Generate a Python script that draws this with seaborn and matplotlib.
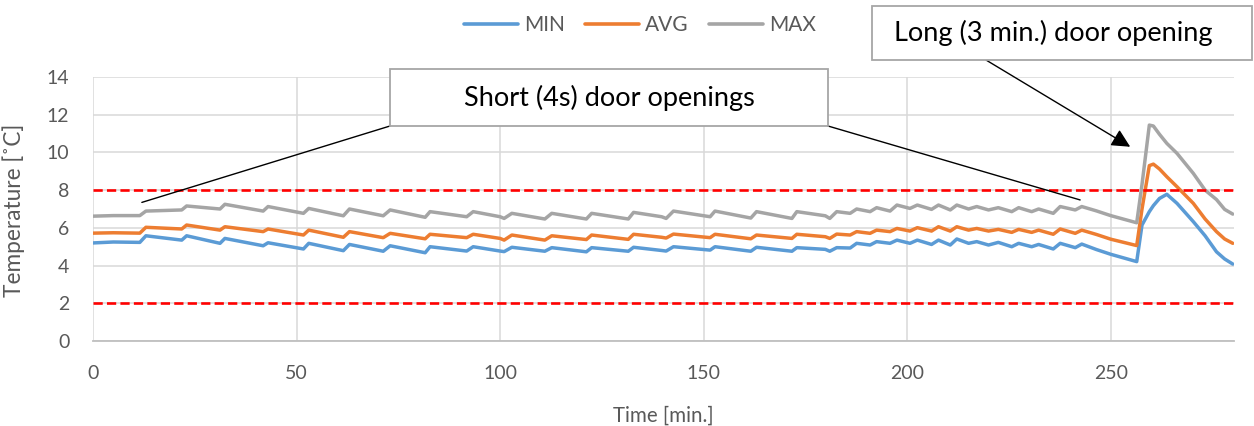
import matplotlib
matplotlib.use("Agg")
import matplotlib.pyplot as plt
import seaborn as sns
import pandas as pd
from matplotlib.patches import Rectangle

# ---------------- data (breakpoints) ----------------
time_min = [0, 5, 11.5, 13, 21.8, 23, 31.2, 32.4, 41.8, 43, 51.7, 53, 61.5, 63,
            71.3, 73, 81.6, 82.8, 91.8, 93.4, 100, 101, 102.9, 111, 112.7, 121.2,
            122.5, 131.5, 132.8, 139.7, 140.8, 142.6, 151.6, 152.8, 161.6, 163,
            171.7, 172.9, 179.9, 181, 182.7, 186, 187.6, 190.9, 192.5, 195.8,
            197.5, 200.7, 202.5, 206, 207.7, 210.6, 212.2, 215.1, 217.1, 220,
            222.4, 225.7, 227.4, 230.6, 232.3, 235.9, 237.6, 241.3, 242.9, 246.5,
            250, 256.4, 257.7, 259.5, 260.5, 262, 263.8, 266.3, 270.3, 273.2,
            276, 278, 280]

t_max = [6.62, 6.65, 6.65, 6.89, 6.95, 7.16, 7.00, 7.25, 6.89, 7.13, 6.77, 7.03, 6.64, 7.00,
         6.64, 6.95, 6.56, 6.86, 6.59, 6.86, 6.59, 6.50, 6.77, 6.47, 6.77, 6.47,
         6.77, 6.47, 6.82, 6.59, 6.50, 6.89, 6.59, 6.89, 6.52, 6.86,
         6.50, 6.86, 6.64, 6.50, 6.86, 6.77, 7.00, 6.86, 7.07, 6.89,
         7.21, 7.03, 7.21, 6.98, 7.21, 6.95, 7.21, 7.00, 7.13, 6.95,
         7.07, 6.86, 7.07, 6.86, 7.00, 6.77, 7.13, 6.95, 7.13, 6.90,
         6.65, 6.27, 8.30, 11.45, 11.40, 10.96, 10.48, 9.95, 8.89, 8.00,
         7.50, 6.98, 6.73]

t_avg = [5.72, 5.74, 5.72, 6.03, 5.94, 6.15, 5.88, 6.06, 5.80, 5.94, 5.62, 5.88, 5.50, 5.80,
         5.48, 5.71, 5.42, 5.66, 5.48, 5.66, 5.44, 5.35, 5.62, 5.35, 5.58, 5.38,
         5.62, 5.39, 5.66, 5.50, 5.46, 5.67, 5.48, 5.66, 5.42, 5.62,
         5.44, 5.66, 5.53, 5.44, 5.67, 5.62, 5.80, 5.71, 5.88, 5.80,
         5.97, 5.83, 6.01, 5.83, 6.06, 5.83, 6.06, 5.88, 5.97, 5.83,
         5.92, 5.76, 5.92, 5.76, 5.88, 5.66, 5.94, 5.71, 5.88, 5.65,
         5.40, 5.06, 7.00, 9.30, 9.38, 9.12, 8.71, 8.18, 7.30, 6.47,
         5.80, 5.41, 5.18]

t_min = [5.20, 5.25, 5.23, 5.58, 5.35, 5.58, 5.18, 5.44, 5.05, 5.21, 4.88, 5.18, 4.79, 5.12,
         4.76, 5.05, 4.68, 5.00, 4.77, 5.00, 4.77, 4.74, 4.97, 4.76, 4.95, 4.73,
         4.95, 4.76, 4.97, 4.80, 4.77, 5.00, 4.82, 5.00, 4.76, 4.97,
         4.76, 4.95, 4.86, 4.76, 4.95, 4.93, 5.18, 5.09, 5.27, 5.18,
         5.35, 5.18, 5.35, 5.12, 5.35, 5.09, 5.41, 5.18, 5.27, 5.09,
         5.23, 5.00, 5.18, 5.00, 5.12, 4.88, 5.18, 4.95, 5.14, 4.85,
         4.60, 4.21, 6.15, 6.86, 7.18, 7.56, 7.78, 7.30, 6.33, 5.58,
         4.73, 4.35, 4.08]

series_names = ["MIN", "AVG", "MAX"]
series_colors = ["#5b9bd5", "#ed7d31", "#a5a5a5"]
limit_values = [2, 8]
limit_span = [0, 280]
x_ticks = [0, 50, 100, 150, 200, 250]
y_ticks = [0, 2, 4, 6, 8, 10, 12, 14]

short_label = "Short (4s) door openings"
long_label = "Long (3 min.) door opening"
short_targets = [(12, 7.35), (242.5, 7.48)]
long_target = (254.8, 10.3)

# ---------------- build frame ----------------
frames = []
for name, vals in zip(series_names, [t_min, t_avg, t_max]):
    frames.append(pd.DataFrame({"Time": time_min, "Temperature": vals, "Series": name}))
df = pd.concat(frames, ignore_index=True)

sns.set_style("white")
plt.rcParams["font.family"] = ["Lato", "DejaVu Sans"]

W, H = 1254, 426
fig = plt.figure(figsize=(W / 100, H / 100), dpi=100)
ax = fig.add_axes([93 / W, 1 - 341 / H, (1234 - 93) / W, (341 - 77) / H])

sns.lineplot(data=df, x="Time", y="Temperature", hue="Series",
             hue_order=series_names, palette=series_colors,
             linewidth=2.5, ax=ax, sort=False, estimator=None, legend=True)

for lv in limit_values:
    ax.plot(limit_span, [lv, lv], color="#ff0000", lw=1.9, dashes=(3.5, 1.6), zorder=5)

ax.set_xlim(0, 280.3)
ax.set_ylim(0, 14)
ax.set_xticks(x_ticks)
ax.set_yticks(y_ticks)
ax.grid(True, color="#d9d9d9", lw=1.1)
ax.set_axisbelow(True)
for s in ["top", "right", "left"]:
    ax.spines[s].set_visible(False)
ax.spines["bottom"].set_color("#bfbfbf")
ax.spines["bottom"].set_linewidth(1.3)
ax.tick_params(axis="both", length=0, labelsize=14, labelcolor="#595959")
ax.tick_params(axis="y", pad=17)
ax.tick_params(axis="x", pad=17)

ax.set_xlabel("Time [min.]", fontsize=14.8, color="#595959")
ax.set_ylabel("Temperature [˚C]", fontsize=16.3, color="#595959")
ax.xaxis.set_label_coords(0.4996, -0.245)
ax.yaxis.set_label_coords(-0.0596, 0.496)

handles, labels = ax.get_legend_handles_labels()
leg = ax.legend(handles, labels, loc="center", bbox_to_anchor=(640 / W, 1 - 25 / H),
                bbox_transform=fig.transFigure, ncol=3, frameon=False,
                fontsize=15, handlelength=2.6, handletextpad=0.3, columnspacing=0.95)
for txt in leg.get_texts():
    txt.set_color("#595959")
for line in leg.get_lines():
    line.set_linewidth(2.6)

def px(x, y):
    return (x / W, 1 - y / H)

# short box
x0, y0, x1, y1 = 390, 69, 828, 126
fig.patches.append(Rectangle(px(x0, y1), (x1 - x0) / W, (y1 - y0) / H,
                             transform=fig.transFigure, facecolor="white",
                             edgecolor="#a6a6a6", lw=1.3, zorder=10))
fig.text(*px((x0 + x1) / 2, (y0 + y1) / 2), short_label, ha="center", va="center",
         fontsize=19.5, color="black", zorder=11)
for (tx, ty), (cx, cy) in zip(short_targets, [(x0, y1), (x1, y1)]):
    ax.annotate("", xy=(tx, ty), xycoords="data",
                xytext=px(cx, cy), textcoords="figure fraction",
                arrowprops=dict(arrowstyle="-", color="black", lw=1.0,
                                shrinkA=0, shrinkB=0), zorder=9)

# long box
x0, y0, x1, y1 = 872, 6, 1252, 60
fig.patches.append(Rectangle(px(x0, y1), (x1 - x0) / W, (y1 - y0) / H,
                             transform=fig.transFigure, facecolor="white",
                             edgecolor="#a6a6a6", lw=1.3, zorder=10))
fig.text(*px(1053, (y0 + y1) / 2), long_label, ha="center", va="center",
         fontsize=19.5, color="black", zorder=11)
ax.annotate("", xy=long_target, xycoords="data",
            xytext=px(986, 60), textcoords="figure fraction",
            arrowprops=dict(arrowstyle="-|>", color="black", lw=1.0,
                            mutation_scale=28, shrinkA=0, shrinkB=0), zorder=9)

fig.savefig("out.png", dpi=100)
